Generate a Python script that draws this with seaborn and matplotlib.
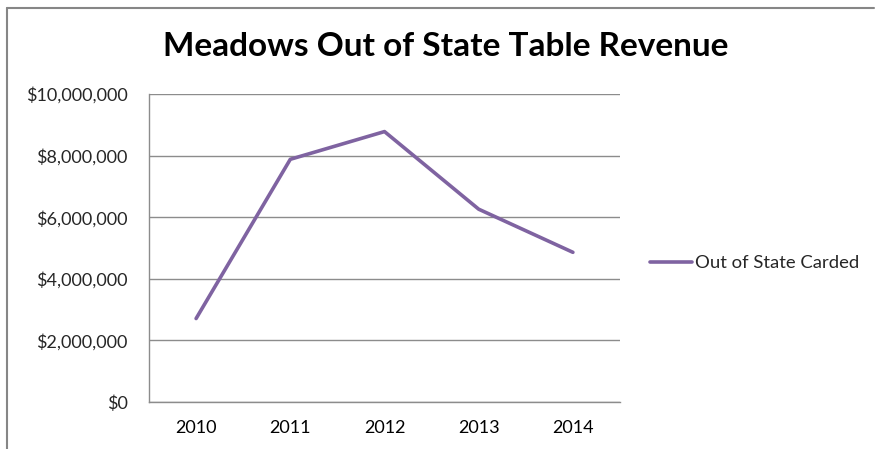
import matplotlib
matplotlib.use("Agg")
import matplotlib.pyplot as plt
import seaborn as sns
import pandas as pd
from matplotlib.ticker import FuncFormatter, FixedLocator
from matplotlib.lines import Line2D

years = ["2010", "2011", "2012", "2013", "2014"]
revenue = [2710000, 7880000, 8780000, 6260000, 4860000]
series_name = "Out of State Carded"
title = "Meadows Out of State Table Revenue"
y_ticks = [0, 2000000, 4000000, 6000000, 8000000, 10000000]

df = pd.DataFrame({"Year": years, "Revenue": revenue, "Series": series_name})

sns.set_style("white")
plt.rcParams["font.family"] = ["Lato", "DejaVu Sans"]

fig = plt.figure(figsize=(8.75, 4.49), dpi=100)
ax = fig.add_axes([149/875, 1 - 402/449, (620 - 149)/875, (402 - 94)/449])

sns.lineplot(data=df, x="Year", y="Revenue", hue="Series", palette=["#7F63A1"],
             linewidth=2.6, ax=ax, sort=False)

ax.set_xlim(-0.5, 4.5)
ax.set_ylim(0, 10000000)
ax.set_yticks(y_ticks)
ax.yaxis.set_major_formatter(FuncFormatter(lambda v, p: "${:,.0f}".format(v)))
ax.grid(axis="y", color="#8c8c8c", linewidth=1.0)
ax.set_axisbelow(True)
ax.set_xlabel("")
ax.set_ylabel("")

ax.xaxis.set_minor_locator(FixedLocator([-0.5, 0.5, 1.5, 2.5, 3.5, 4.5]))
ax.tick_params(axis="x", which="major", length=0, pad=13, labelsize=13, colors="#000000")
ax.tick_params(axis="x", which="minor", length=4.3, width=1, color="#8c8c8c", direction="out")
ax.tick_params(axis="y", which="major", length=4.3, width=1, color="#8c8c8c", direction="out",
               labelsize=13, pad=11)

for s in ["top", "right"]:
    ax.spines[s].set_visible(False)
for s in ["left", "bottom"]:
    ax.spines[s].set_color("#8c8c8c")
    ax.spines[s].set_linewidth(1.0)

fig.text(446/875, 1 - 47/449, title, ha="center", va="center",
         fontsize=24, fontweight="bold", color="#000000")

handles, labels = ax.get_legend_handles_labels()
ax.legend(handles=handles, labels=labels, loc="center left",
          bbox_to_anchor=(650/875, 1 - 263/449), bbox_transform=fig.transFigure,
          frameon=False, fontsize=13.3, handlelength=2.3, handletextpad=0.15,
          borderaxespad=0, borderpad=0)

# outer chart border (top and left visible)
fig.add_artist(Line2D([7/875, 7/875], [0, 1 - 7.5/449], transform=fig.transFigure,
                      color="#868686", linewidth=1.5))
fig.add_artist(Line2D([7/875, 874/875], [1 - 7.5/449, 1 - 7.5/449], transform=fig.transFigure,
                      color="#868686", linewidth=1.5))

fig.savefig("out.png", dpi=100)
